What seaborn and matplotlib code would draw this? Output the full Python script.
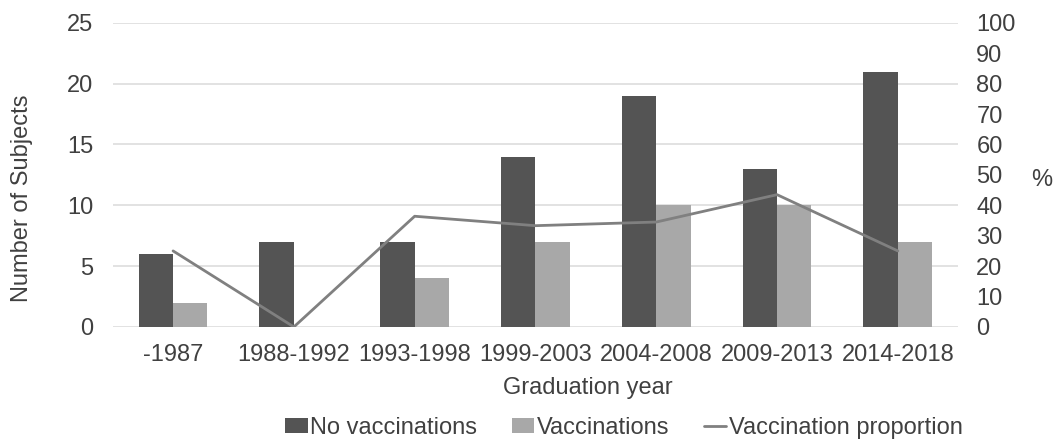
import matplotlib
matplotlib.use("Agg")
import matplotlib.pyplot as plt
from matplotlib.patches import Patch
from matplotlib.lines import Line2D
import seaborn as sns
import pandas as pd

# Survey counts by graduation cohort
categories = ["-1987", "1988-1992", "1993-1998", "1999-2003", "2004-2008", "2009-2013", "2014-2018"]
no_vaccinations = [6, 7, 7, 14, 19, 13, 21]
vaccinations = [2, 0, 4, 7, 10, 10, 7]
vaccination_proportion = [25.0, 0.0, 36.4, 33.3, 34.5, 43.5, 25.0]

series_names = ["No vaccinations", "Vaccinations"]
colors = ["#545454", "#a8a8a8"]
line_color = "#808080"
grid_color = "#dddddd"
text_color = "#404040"
fs = 17

sns.set_theme(style="white")
plt.rcParams["font.family"] = ["Liberation Sans", "DejaVu Sans"]

df = pd.DataFrame({
    "Graduation year": categories * 2,
    "count": no_vaccinations + vaccinations,
    "series": [series_names[0]] * len(categories) + [series_names[1]] * len(categories),
})

fig = plt.figure(figsize=(10.53, 4.4), dpi=100)
ax = fig.add_axes([0.107, 0.257, 0.803, 0.691])

sns.barplot(data=df, x="Graduation year", y="count", hue="series",
            palette=colors, width=0.57, ax=ax, legend=False,
            saturation=1, linewidth=0)

ax.set_ylim(0, 25)
ax.set_yticks(range(0, 26, 5))
ax.set_xlim(-0.5, len(categories) - 0.5)
ax.yaxis.grid(True, color=grid_color, linewidth=1.2)
ax.set_axisbelow(True)
for s in ax.spines.values():
    s.set_visible(False)
ax.tick_params(axis="both", length=0, labelsize=fs, colors=text_color)
ax.tick_params(axis="y", pad=14)
ax.tick_params(axis="x", pad=12)
ax.set_xlabel("")
ax.set_ylabel("")

ax2 = ax.twinx()
sns.lineplot(x=list(range(len(categories))), y=vaccination_proportion, ax=ax2,
             color=line_color, linewidth=2)
ax2.set_ylim(0, 100)
ax2.set_yticks(range(0, 101, 10))
for s in ax2.spines.values():
    s.set_visible(False)
ax2.tick_params(axis="y", length=0, labelsize=fs, colors=text_color, pad=13)
ax2.set_ylabel("")

fig.text(22 / 1053, 1 - 198 / 440, "Number of Subjects", fontsize=fs,
         color=text_color, ha="center", va="center", rotation=90)
fig.text(1042 / 1053, 1 - 180 / 440, "%", fontsize=fs, color=text_color,
         ha="center", va="center")
fig.text(588 / 1053, 1 - 388 / 440, "Graduation year", fontsize=fs,
         color=text_color, ha="center", va="center")

handles = [
    Patch(facecolor=colors[0], edgecolor="none"),
    Patch(facecolor=colors[1], edgecolor="none"),
    Line2D([0], [0], color=line_color, linewidth=2),
]
fig.legend(handles, ["No vaccinations", "Vaccinations", "Vaccination proportion"],
           loc="center", bbox_to_anchor=(624 / 1053, 1 - 428 / 440), ncol=3,
           frameon=False, fontsize=fs, handlelength=0.95, handleheight=0.6,
           handletextpad=0.12, columnspacing=1.45, labelcolor=text_color,
           borderpad=0, borderaxespad=0)

fig.savefig("out.png", dpi=100, facecolor="white")
